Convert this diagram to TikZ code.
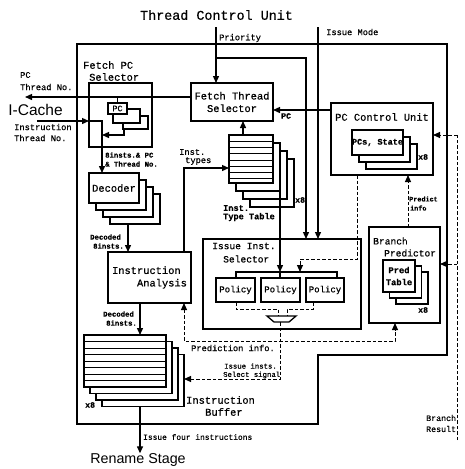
\documentclass[tikz,border=0pt]{standalone}
\usepackage{fontspec}
\setmainfont{Liberation Mono}[FakeBold=0.6]
\newfontfamily\sansf{Liberation Sans}
\usetikzlibrary{arrows.meta}
\newcommand\rb[7][]{\node[box,minimum width={(#5)-(#3)},minimum height={(#6)-(#4)},#1] (#2) at ({((#3)+(#5))/2},{((#4)+(#6))/2}) {#7};}
\tikzset{
  box/.style={draw,line width=1.3pt,fill=white,inner sep=0pt,outer sep=0pt,align=center},
  ln/.style={line width=1.3pt},
  arr/.style={line width=1.3pt,->},
  dsh/.style={line width=1pt,dash pattern=on 3.5pt off 2pt},
  row/.style={line width=1pt},
  lb/.style={inner sep=0pt,anchor=west},
  fA/.style={font=\fontsize{10.4}{12.5}\selectfont},
  fI/.style={font=\fontsize{9.6}{12}\selectfont},
  fB/.style={font=\fontsize{8.7}{10.5}\selectfont},
  fC/.style={font=\bfseries\fontsize{7.3}{9}\selectfont},
  fS/.style={font=\fontsize{7.3}{9}\selectfont},
  fX/.style={font=\bfseries\fontsize{8.2}{10}\selectfont},
  fP/.style={font=\fontsize{9}{11}\selectfont},
}
\begin{document}
\begin{tikzpicture}[x=1pt,y=-1pt,>={Triangle[length=7pt,width=6pt]}]
\useasboundingbox (0,0) rectangle (464,469);
% outer frame
\draw[ln] (77,44) -- (447,44) -- (447,355) -- (318,355) -- (318,424) -- (77,424) -- cycle;

% title
\node[inner sep=0pt,font=\fontsize{13.4}{16}\selectfont] (tcu) at (216.5,15) {Thread Control Unit};
\coordinate (prio) at (216,27);
\coordinate (imode) at (318,27);

% Fetch Thread Selector
\rb[fA]{fts}{191}{83}{273}{121}{Fetch Thread\\Selector}

% PC Control Unit
\rb{pcc}{331}{103}{433}{175}{}
\node[fA,inner sep=0pt] (pcct) at (382,117) {PC Control Unit};
\foreach \i in {2,1} {\rb{pcs\i}{352+7*\i}{130+7*\i}{403+7*\i}{155+7*\i}{}}
\rb[font=\bfseries\fontsize{8.5}{10}\selectfont]{pcs0}{352}{130}{403}{155}{PCs, State}
\node[lb,fX] (x8a) at (418,157) {x8};

% Fetch PC Selector
\rb{fps}{89}{83}{152}{147}{}
\node[lb,fA] (fpst1) at (83,65) {Fetch PC};
\node[lb,fA] (fpst2) at (89,77) {Selector};
\rb{pc3}{123}{116}{148}{129}{}
\rb{pc2}{113}{109}{140}{123}{}
\rb[font=\fontsize{8.5}{10}\selectfont]{pc1}{108}{103}{127}{114}{PC}

% Decoder
\foreach \i in {3,2,1} {\rb{dec\i}{89+7*\i}{173+7*\i}{139+7*\i}{203+7*\i}{}}
\rb[fA]{dec0}{89}{173}{139}{203}{Decoder}

% Instruction Analysis
\rb[fA,align=left]{ia}{108}{252}{191}{303}{Instruction\\\phantom{xxxx}Analysis}

% Inst Type Table
\foreach \i in {3,2,1} {\rb{itt\i}{229+7*\i}{135+8*\i}{273+7*\i}{183+8*\i}{}}
\rb{itt0}{229}{135}{273}{183}{}
\foreach \k in {1,...,7} {\draw[row] (229,{135+6.25*\k}) -- (273,{135+6.25*\k});}
\node[lb,fX] (x8b) at (295,200) {x8};

% Issue Inst Selector
\rb{iis}{203}{239}{361}{329}{}
\node[lb,fI] (iist1) at (212,246) {Issue Inst.};
\node[lb,fI] (iist2) at (223,259) {Selector};
\rb[fP]{p1}{216}{278}{255}{302}{Policy}
\rb[fP]{p2}{261}{278}{300}{302}{Policy}
\rb[fP]{p3}{306}{278}{344}{302}{Policy}
\coordinate (brk) at (280,272);
\draw[ln] (p1.north -| 236,0) |- (337,272) -- (p3.north -| 337,0);
\draw[ln] (brk) -- (p2.north -| 280,0);
\draw[ln] (267,316) -- (296,316) -- (289,322) -- (274,322) -- cycle;
\coordinate (mux) at (280,322);
\draw[dsh] (p1.south -| 236,0) |- (278,309) -- (278,316);
\draw[dsh] (p3.south -| 313,0) |- (287,309) -- (287,316);

% Branch Predictor
\rb{bp}{369}{227}{440}{323}{}
\node[lb,fI] (bpt1) at (373,241) {Branch};
\node[lb,fI] (bpt2) at (384,253) {Predictor};
\foreach \i in {2,1} {\rb{pt\i}{383+6.5*\i}{260+6*\i}{415+6.5*\i}{292+6*\i}{}}
\rb[font=\bfseries\fontsize{8.8}{12}\selectfont]{pt0}{383}{260}{415}{292}{Pred\\Table}
\node[lb,fX] (x8c) at (418,310) {x8};

% Instruction Buffer
\foreach \i in {3,2,1} {\rb{ib\i}{84+6*\i}{335+6.5*\i}{166+6*\i}{387+6.5*\i}{}}
\rb{ib0}{84}{335}{166}{387}{}
\foreach \k in {1,...,7} {\draw[row] (84,{335+6.5*\k}) -- (166,{335+6.5*\k});}
\node[lb,fX] (x8d) at (85,405) {x8};
\node[lb,fA] (ibt1) at (186,400) {Instruction};
\node[lb,fA] (ibt2) at (205,412) {Buffer};

% I-Cache and Rename Stage
\node[inner sep=0pt,font=\sansf\fontsize{15.5}{18}\selectfont] (ic) at (35.5,110) {I-Cache};
\node[inner sep=0pt,font=\sansf\fontsize{14.3}{17}\selectfont] (rs) at (138,460) {Rename Stage};
\coordinate (icin) at (37,121);
\coordinate (pcout) at (25,97);

% ---- connectors ----
\draw[arr] (prio) -- (prio |- fts.north);
\draw[arr] (216,58) -| (iis.north -| 306,0);
\draw[arr] (imode) -- (imode |- iis.north);
\draw[arr] (pcc.west |- 0,110) -- (fts.east |- 0,110);
\draw[arr] (fts.west |- 0,97) -- (pcout);
\draw[ln] (pc1.north) -- (pc1.north |- 0,97);
\draw[arr] (icin) -- (fps.west |- icin);
\draw[arr] (fps.west |- icin) -| (dec0.north -| 102,0);
\draw[arr] ([xshift=1pt]pc3.south west) |- (102,135);
\draw[arr] (dec3.south -| 128,0) -- (ia.north -| 128,0);
\draw[arr] (ia.north -| 184,0) |- (itt0.west |- 0,168);
\draw[arr] (itt0.north -| 243,0) -- (fts.south -| 243,0);
\draw[arr] (itt1.south east) -- (brk);
\draw[arr] (ia.south -| 140,0) -- (ib0.north -| 140,0);
\draw[arr] (ib3.south -| 140,0) -- (rs.north -| 140,0);
\draw[dsh,->] (pcc.south -| 357,0) |- (300,259) -- (300,272);
\draw[dsh,->] (mux) |- (ib3.east |- 0,379);
\draw[dsh,<->] (ia.south -| 184,0) |- (395,341) -- (bp.south -| 395,0);
\draw[dsh,->] (bp.north -| 408,0) -- (pcc.south -| 408,0);
\coordinate (brres) at (457,440);
\draw[dsh] (brres) -- (457,135);
\draw[dsh,->] (457,135) -- (pcc.east |- 0,135);
\draw[dsh,->] (457,264) -- (bp.east |- 0,264);

% ---- labels ----
\node[lb,fB] (lprio) at (219,38) {Priority};
\node[lb,fB] (limode) at (326,32) {Issue Mode};
\node[lb,fB] (lpc1) at (20,75) {PC};
\node[lb,fB] (lpc2) at (20,87) {Thread No.};
\node[lb,fB] (lic1) at (14,127) {Instruction};
\node[lb,fB] (lic2) at (14,138) {Thread No.};
\node[lb,fC] (l8a) at (105,155) {8insts.\& PC};
\node[lb,fC] (l8b) at (105,164) {\& Thread No.};
\node[lb,fX] (lpc) at (281,116) {PC};
\node[lb,fB] (lit1) at (179,152) {Inst.};
\node[lb,fB] (lit2) at (185,161) {types};
\node[lb,font=\bfseries\fontsize{8.6}{10}\selectfont] (ltt1) at (223,208) {Inst.};
\node[lb,font=\bfseries\fontsize{8.6}{10}\selectfont] (ltt2) at (223,217) {Type Table};
\node[lb,fC] (ldec1) at (90,237) {Decoded};
\node[lb,fC] (ldec2) at (93,246) {8insts.};
\node[lb,fC] (ldec3) at (103,314) {Decoded};
\node[lb,fC] (ldec4) at (106,323) {8insts.};
\node[lb,font=\bfseries\fontsize{6.8}{8}\selectfont] (lpi1) at (409,199) {Predict};
\node[lb,font=\bfseries\fontsize{6.8}{8}\selectfont] (lpi2) at (410,208) {info};
\node[lb,fB] (lpred) at (191,348) {Prediction info.};
\node[lb,fS] (lsel1) at (224,366) {Issue insts.};
\node[lb,fS] (lsel2) at (223,375) {Select signal};
\node[lb,font=\fontsize{7.9}{9}\selectfont] (lfour) at (143,437) {Issue four instructions};
\node[lb,font=\fontsize{8.3}{10}\selectfont] (lbr1) at (426,418) {Branch};
\node[lb,font=\fontsize{8.3}{10}\selectfont] (lbr2) at (426,429) {Result};
\end{tikzpicture}
\end{document}
